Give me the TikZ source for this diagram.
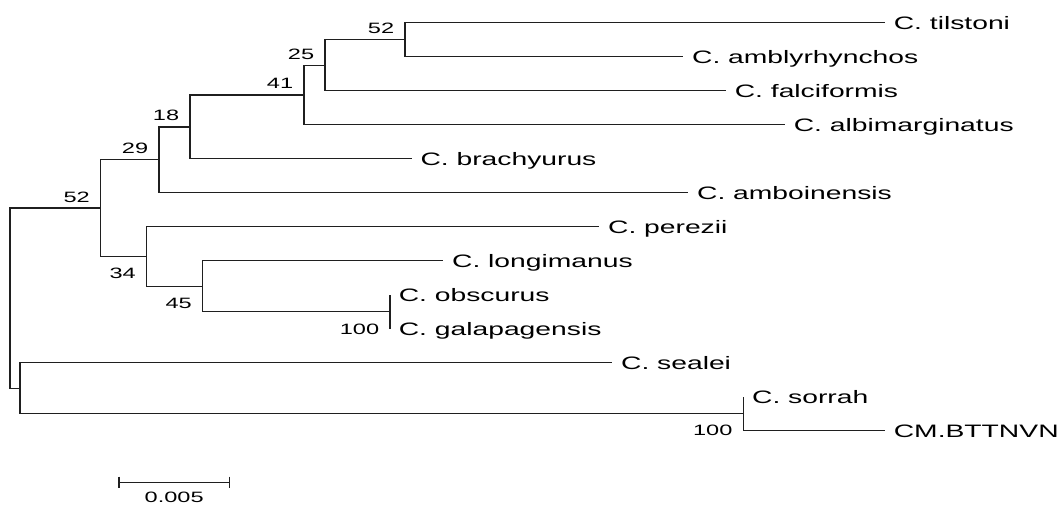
\documentclass[tikz,border=0pt]{standalone}
\usepackage{fontspec}
\setmainfont{Liberation Sans}[FakeStretch=1.57]
\begin{document}
\begin{tikzpicture}[x=1pt,y=-1pt,
  br/.style={line width=1.4pt, line join=miter, draw=black!88},
  sp/.style={anchor=base west, inner sep=0pt, font=\fontsize{18}{20}\selectfont},
  bs/.style={anchor=base east, inner sep=0pt, font=\fontsize{15}{17}\selectfont},
]
\useasboundingbox (0,0) rectangle (1059,504);
% tips
\coordinate (t1) at (885,22.7);
\coordinate (t2) at (683.3,56.7);
\coordinate (t3) at (726,90.7);
\coordinate (t4) at (785,124.7);
\coordinate (t5) at (411.7,158.7);
\coordinate (t6) at (688.3,192.7);
\coordinate (t7) at (599.3,226.7);
\coordinate (t8) at (443.3,260.7);
\coordinate (t9) at (390,294.7);
\coordinate (t10) at (390,328.7);
\coordinate (t11) at (612.3,362.7);
\coordinate (t12) at (743.3,396.7);
\coordinate (t13) at (885,430.7);
% internal nodes
\coordinate (nF) at (405,39.7);
\coordinate (nE) at (325,65.2);
\coordinate (nD) at (304,94.95);
\coordinate (nC) at (190,126.8);
\coordinate (nB) at (159,159.75);
\coordinate (nS) at (390,311.7);
\coordinate (nQ) at (202.7,286.2);
\coordinate (nP) at (146.7,256.45);
\coordinate (nA) at (100.7,208.1);
\coordinate (nU) at (743.3,413.7);
\coordinate (nT) at (20,388.2);
\coordinate (nR) at (10,298.15);
% branches
\draw[br] (nR) |- (nA);
\draw[br] (nR) |- (nT);
\draw[br] (nA) |- (nB);
\draw[br] (nA) |- (nP);
\draw[br] (nB) |- (nC);
\draw[br] (nB) |- (t6);
\draw[br] (nC) |- (nD);
\draw[br] (nC) |- (t5);
\draw[br] (nD) |- (nE);
\draw[br] (nD) |- (t4);
\draw[br] (nE) |- (nF);
\draw[br] (nE) |- (t3);
\draw[br] (nF) |- (t1);
\draw[br] (nF) |- (t2);
\draw[br] (nP) |- (t7);
\draw[br] (nP) |- (nQ);
\draw[br] (nQ) |- (t8);
\draw[br] (nQ) |- (nS);
\draw[br] (nS) |- (t9);
\draw[br] (nS) |- (t10);
\draw[br] (nT) |- (t11);
\draw[br] (nT) |- (nU);
\draw[br] (nU) |- (t12);
\draw[br] (nU) |- (t13);
% taxon labels
\node[sp] (l1) at ([shift={(8.6,6.6)}]t1) {C. tilstoni};
\node[sp] (l2) at ([shift={(8.6,6.6)}]t2) {C. amblyrhynchos};
\node[sp] (l3) at ([shift={(8.6,6.6)}]t3) {C. falciformis};
\node[sp] (l4) at ([shift={(8.6,6.6)}]t4) {C. albimarginatus};
\node[sp] (l5) at ([shift={(8.6,6.6)}]t5) {C. brachyurus};
\node[sp] (l6) at ([shift={(8.6,6.6)}]t6) {C. amboinensis};
\node[sp] (l7) at ([shift={(8.6,6.6)}]t7) {C. perezii};
\node[sp] (l8) at ([shift={(8.6,6.6)}]t8) {C. longimanus};
\node[sp] (l9) at ([shift={(8.6,6.6)}]t9) {C. obscurus};
\node[sp] (l10) at ([shift={(8.6,6.6)}]t10) {C. galapagensis};
\node[sp] (l11) at ([shift={(8.6,6.6)}]t11) {C. sealei};
\node[sp] (l12) at ([shift={(8.6,6.6)}]t12) {C. sorrah};
\node[sp] (l13) at ([shift={(8.6,6.6)}]t13) {CM.BTTNVN};
% bootstrap values
\node[bs] (bF) at ([shift={(-10.7,-6)}]nF) {52};
\node[bs] (bE) at ([shift={(-10.7,-6)}]nE) {25};
\node[bs] (bD) at ([shift={(-10.7,-6)}]nD) {41};
\node[bs] (bC) at ([shift={(-10.7,-6)}]nC) {18};
\node[bs] (bB) at ([shift={(-10.7,-6)}]nB) {29};
\node[bs] (bA) at ([shift={(-10.7,-6)}]nA) {52};
\node[bs] (bP) at ([shift={(-10.7,22.5)}]nP) {34};
\node[bs] (bQ) at ([shift={(-10.7,22.5)}]nQ) {45};
\node[bs] (bS) at ([shift={(-10.7,22.5)}]nS) {100};
\node[bs] (bU) at ([shift={(-10.7,22)}]nU) {100};
% scale bar
\coordinate (s1) at (119,482.3);
\coordinate (s2) at (229.3,482.3);
\draw[br] (s1) -- (s2);
\draw[br] ([yshift=5.8pt]s1) -- ([yshift=-5.8pt]s1);
\draw[br] ([yshift=5.8pt]s2) -- ([yshift=-5.8pt]s2);
\node[anchor=base, inner sep=0pt, font=\fontsize{15}{17}\selectfont] (sl) at (174.2,502.5) {0.005};
\end{tikzpicture}
\end{document}
